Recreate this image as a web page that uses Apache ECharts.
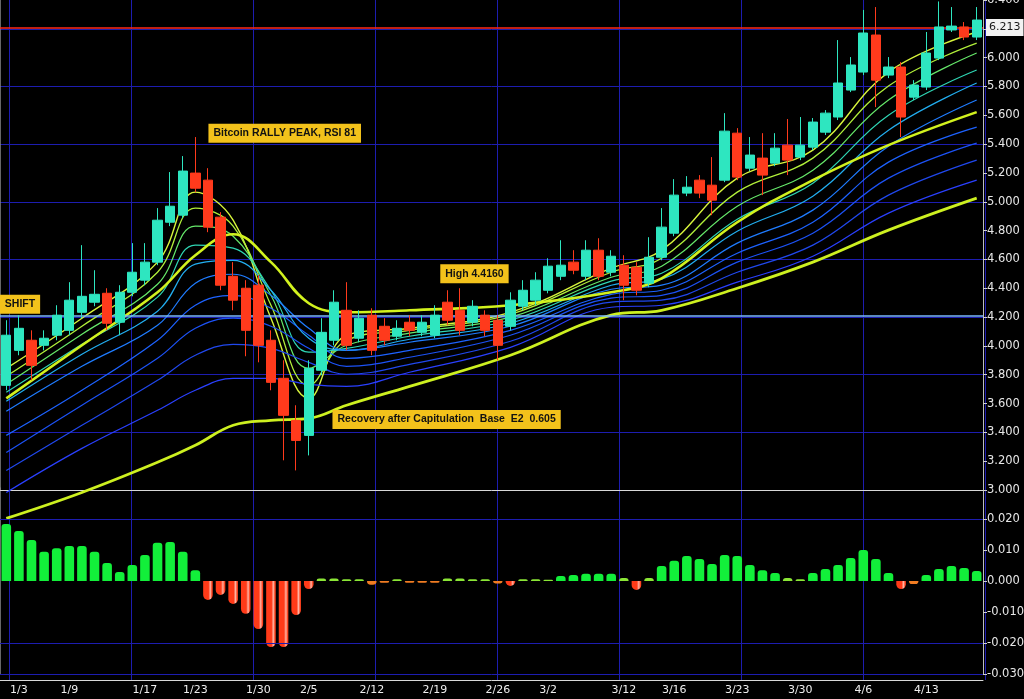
<!DOCTYPE html>
<html>
<head>
<meta charset="utf-8">
<script src="https://cdn.jsdelivr.net/npm/echarts@6/dist/echarts.min.js"></script>
<style>
  html, body { margin: 0; padding: 0; background: #000; }
  #chart { width: 1024px; height: 699px; }
</style>
</head>
<body>
<div id="chart"></div>
<script>
// Trading days shown on the category axis
const dates = ('1/2 1/3 1/4 1/5 1/8 1/9 1/10 1/11 1/12 1/15 1/16 1/17 1/18 1/19 1/22 1/23 1/24 1/25 1/26 1/29 1/30 1/31 ' +
  '2/1 2/2 2/5 2/6 2/7 2/8 2/9 2/12 2/13 2/14 2/15 2/16 2/19 2/20 2/21 2/22 2/23 2/26 2/27 2/28 ' +
  '3/1 3/2 3/5 3/6 3/7 3/8 3/9 3/12 3/13 3/14 3/15 3/16 3/19 3/20 3/21 3/22 3/23 3/26 3/27 3/28 3/29 3/30 ' +
  '4/2 4/3 4/4 4/5 4/6 4/9 4/10 4/11 4/12 4/13 4/16 4/17 4/18 4/19').split(' ');

// Daily OHLC
const open = [3.726,3.969,4.039,4.004,4.074,4.108,4.233,4.303,4.365,4.164,
  4.372,4.456,4.581,4.858,4.907,5.199,5.150,4.893,4.483,4.400,
  4.421,4.039,3.775,3.483,3.379,3.831,4.039,4.247,4.053,4.213,
  4.136,4.067,4.164,4.094,4.074,4.303,4.247,4.164,4.213,4.178,
  4.136,4.275,4.317,4.386,4.483,4.581,4.483,4.664,4.511,4.560,
  4.546,4.435,4.615,4.782,5.060,5.150,5.115,5.150,5.476,5.233,
  5.303,5.268,5.393,5.310,5.379,5.483,5.588,5.775,5.900,6.157,
  5.879,5.935,5.726,5.796,5.997,6.192,6.213,6.143];
const close = [4.074,4.122,3.865,4.053,4.213,4.317,4.344,4.358,4.157,4.372,
  4.511,4.581,4.872,4.969,5.213,5.094,4.824,4.421,4.317,4.108,
  4.004,3.747,3.518,3.344,3.844,4.094,4.303,4.004,4.192,3.969,
  4.039,4.122,4.108,4.164,4.213,4.178,4.108,4.275,4.108,4.004,
  4.317,4.386,4.456,4.553,4.560,4.525,4.664,4.483,4.622,4.421,
  4.386,4.615,4.824,5.046,5.101,5.060,5.011,5.490,5.171,5.324,
  5.185,5.372,5.289,5.393,5.553,5.615,5.824,5.949,6.171,5.844,
  5.935,5.588,5.810,6.032,6.213,6.219,6.143,6.261];
const low = [3.692,3.935,3.761,3.969,4.039,4.074,4.192,4.275,4.108,4.074,
  4.344,4.421,4.560,4.831,4.886,5.067,4.789,4.386,4.247,3.928,
  3.886,3.692,3.206,3.136,3.240,3.796,4.004,3.969,4.025,3.935,
  4.004,4.039,4.067,4.067,4.053,4.143,4.074,4.136,4.067,3.900,
  4.108,4.247,4.282,4.365,4.456,4.497,4.456,4.456,4.483,4.317,
  4.351,4.407,4.594,4.761,5.039,5.025,4.907,5.136,5.150,5.213,
  5.046,5.247,5.185,5.289,5.358,5.463,5.567,5.761,5.879,5.657,
  5.858,5.449,5.706,5.775,5.983,6.178,6.122,6.122];
const high = [4.178,4.213,4.108,4.108,4.282,4.442,4.699,4.525,4.400,4.421,
  4.713,4.713,4.956,5.206,5.317,5.449,5.233,4.928,4.581,4.456,
  4.490,4.108,3.900,3.588,3.900,4.192,4.386,4.442,4.247,4.261,
  4.192,4.178,4.213,4.213,4.282,4.386,4.400,4.317,4.247,4.213,
  4.372,4.456,4.511,4.608,4.733,4.664,4.733,4.747,4.664,4.629,
  4.581,4.754,4.956,5.157,5.178,5.185,5.310,5.615,5.511,5.449,
  5.476,5.476,5.574,5.588,5.581,5.636,6.122,6.004,6.331,6.351,
  6.004,5.969,5.844,6.178,6.390,6.351,6.247,6.351];

// Momentum histogram
const histogram = [0.0184,0.0161,0.0132,0.0094,0.0106,0.0113,0.0113,0.0094,0.0058,0.0029,
  0.0052,0.0084,0.0123,0.0126,0.0094,0.0035,-0.0061,-0.0045,-0.0074,-0.0106,
  -0.0155,-0.0213,-0.0213,-0.0110,-0.0026,0.0008,0.0008,0.0006,0.0006,-0.0012,
  -0.0006,0.0006,-0.0006,-0.0006,-0.0006,0.0008,0.0008,0.0006,0.0006,-0.0008,
  -0.0016,0.0006,0.0006,0.0004,0.0016,0.0019,0.0023,0.0023,0.0023,0.0010,
  -0.0029,0.0010,0.0048,0.0065,0.0081,0.0071,0.0055,0.0084,0.0081,0.0052,
  0.0035,0.0026,0.0010,0.0006,0.0026,0.0039,0.0052,0.0074,0.0100,0.0071,
  0.0026,-0.0026,-0.0010,0.0019,0.0039,0.0048,0.0042,0.0032];

// Moving-average ribbon, read at these day indices (fast -> slow)
const ribbonDays = [0, 6, 12, 15, 18, 21, 24, 27, 32, 40, 48, 52, 58, 64, 70, 77];
const ma1  = [3.844,4.192,4.581,5.067,4.872,4.192,3.636,4.074,4.122,4.233,4.539,4.664,5.164,5.358,5.900,6.178];
const ma2  = [3.789,4.136,4.511,4.956,4.831,4.282,3.726,4.039,4.108,4.219,4.511,4.608,5.067,5.303,5.803,6.101];
const ma3  = [3.733,4.081,4.428,4.831,4.761,4.351,3.844,4.004,4.088,4.199,4.476,4.553,4.969,5.219,5.706,6.032];
const ma4  = [3.678,4.011,4.338,4.699,4.678,4.386,3.956,3.983,4.067,4.178,4.449,4.504,4.879,5.129,5.601,5.914];
const ma5  = [3.615,3.942,4.240,4.567,4.594,4.386,4.053,3.969,4.046,4.157,4.421,4.463,4.796,5.039,5.497,5.824];
const ma6  = [3.546,3.858,4.143,4.435,4.497,4.351,4.122,3.969,4.025,4.136,4.393,4.421,4.713,4.942,5.386,5.706];
const ma7  = [3.636,4.004,4.372,4.629,4.775,4.581,4.296,4.233,4.247,4.282,4.372,4.469,4.858,5.150,5.393,5.622];
const ma8  = [3.379,3.692,4.039,4.282,4.351,4.261,4.074,3.914,3.969,4.108,4.358,4.386,4.643,4.858,5.275,5.518];
const ma9  = [3.261,3.588,3.914,4.122,4.192,4.136,3.983,3.858,3.921,4.074,4.331,4.351,4.581,4.782,5.164,5.407];
const ma10 = [3.136,3.449,3.761,3.935,4.011,3.983,3.886,3.803,3.872,4.032,4.303,4.317,4.511,4.699,5.046,5.289];
const ma11 = [2.983,3.289,3.553,3.692,3.775,3.775,3.733,3.719,3.817,3.990,4.268,4.282,4.442,4.622,4.921,5.150];
const ma12 = [2.803,2.983,3.192,3.310,3.449,3.483,3.497,3.588,3.719,3.935,4.213,4.247,4.400,4.581,4.803,5.025];

// Reference levels
const lastPrice = 6.213;
const supportLevel = 4.213;

// Date labels shown under the histogram
const dateTicks = [1, 5, 11, 15, 20, 24, 29, 34, 39, 43, 49, 53, 58, 63, 68, 73];

// Chart notes: text, day index, price
const noteText  = ['Bitcoin RALLY PEAK, RSI 81', 'High 4.4160', 'Recovery after Capitulation  Base  E2  0.605', 'SHIFT'];
const noteDay   = [16, 34, 26, 0];
const notePrice = [5.476, 4.501, 3.490, 4.289];

const GRID_BLUE = '#1d1db0';
const AXIS_FONT = 'DejaVu Sans';

const ribbon = [
  { d: ma1,  color: '#d8f53c', w: 1.4 },
  { d: ma2,  color: '#b2f03a', w: 1.3 },
  { d: ma3,  color: '#66e86a', w: 1.2 },
  { d: ma4,  color: '#2fd6b4', w: 1.2 },
  { d: ma5,  color: '#22aef0', w: 1.2 },
  { d: ma6,  color: '#1f7cff', w: 1.2 },
  { d: ma7,  color: '#d2f21e', w: 2.6 },
  { d: ma8,  color: '#1d62ff', w: 1.2 },
  { d: ma9,  color: '#1c52f6', w: 1.2 },
  { d: ma10, color: '#2048ee', w: 1.2 },
  { d: ma11, color: '#2a40ff', w: 1.2 },
  { d: ma12, color: '#cdf020', w: 2.8 }
];

const redBar = new echarts.graphic.LinearGradient(0, 0, 1, 0, [
  { offset: 0, color: '#ff3a18' },
  { offset: 0.55, color: '#ff3a18' },
  { offset: 0.75, color: '#ffb4a4' },
  { offset: 0.9, color: '#ff4a26' },
  { offset: 1, color: '#ff3a18' }
]);

function barColor(v) {
  if (v >= 0.0015) return '#12ef3a';
  if (v >= 0) return '#8be636';
  if (v > -0.0015) return '#f07c22';
  return redBar;
}

const chart = echarts.init(document.getElementById('chart'), null, { renderer: 'canvas' });

const series = ribbon.map(r => ({
  type: 'line',
  xAxisIndex: 0,
  yAxisIndex: 0,
  data: ribbonDays.map((day, j) => [day, r.d[j]]),
  smooth: 0.4,
  showSymbol: false,
  clip: false,
  silent: true,
  z: 3,
  lineStyle: { color: r.color, width: r.w }
}));

series.push({
  type: 'candlestick',
  xAxisIndex: 0,
  yAxisIndex: 0,
  z: 6,
  barWidth: '78%',
  data: dates.map((d, i) => [open[i], close[i], low[i], high[i]]),
  itemStyle: {
    color: '#2ee6c0', color0: '#ff3a1c',
    borderColor: '#2ee6c0', borderColor0: '#ff3a1c', borderWidth: 1
  },
  markLine: {
    silent: true,
    symbol: ['none', 'none'],
    lineStyle: { type: 'solid' },
    data: [
      { yAxis: lastPrice, lineStyle: { color: '#ff2a1a', width: 1.6, type: 'solid' },
        label: { show: true, position: 'end', distance: 3, formatter: lastPrice.toFixed(3),
          backgroundColor: '#f2f2f2', color: '#1a1a1a', padding: [3, 3], fontSize: 11, fontFamily: AXIS_FONT } },
      { yAxis: supportLevel, lineStyle: { color: '#7ab8ff', width: 1.5, type: 'solid' }, label: { show: false } }
    ]
  },
  markPoint: {
    symbol: 'rect',
    symbolSize: 1,
    silent: true,
    itemStyle: { color: 'rgba(0,0,0,0)' },
    label: {
      show: true, position: 'right', distance: 0,
      backgroundColor: '#f3c21b', color: '#121212', fontWeight: 'bold',
      fontSize: 10.5, fontFamily: 'Liberation Sans', padding: [4, 5]
    },
    data: noteText.map((t, i) => ({
      coord: [noteDay[i], notePrice[i]],
      label: { formatter: t, offset: [[0, 5, -2, -7][i], 0] }
    }))
  }
});

series.push({
  type: 'bar',
  xAxisIndex: 1,
  yAxisIndex: 2,
  barWidth: '76%',
  z: 4,
  data: histogram.map(v => ({
    value: v,
    itemStyle: { color: barColor(v), borderRadius: v >= 0 ? [3, 3, 0, 0] : [0, 0, 6, 6] }
  })),
  markLine: {
    silent: true,
    symbol: ['none', 'none'],
    label: { show: false },
    lineStyle: { color: GRID_BLUE, width: 1, type: 'solid' },
    data: [{ yAxis: 0.02 }, { yAxis: -0.018 }, { yAxis: -0.0295 }]
  }
});

chart.setOption({
  backgroundColor: '#000000',
  animation: false,
  grid: [
    { left: 0, right: 41, top: 0, height: 490, outerBoundsMode: 'none', containLabel: false },
    { left: 0, right: 41, top: 488, height: 186, outerBoundsMode: 'none', containLabel: false },
    { left: 9, top: 0, width: 976, height: 680, outerBoundsMode: 'none', containLabel: false }
  ],
  xAxis: [
    { type: 'category', gridIndex: 0, data: dates,
      axisLine: { onZero: false, lineStyle: { color: '#d8d8d8', width: 1 } },
      axisTick: { show: false }, axisLabel: { show: false }, splitLine: { show: false } },
    { type: 'category', gridIndex: 1, data: dates, offset: 6,
      axisLine: { onZero: false, lineStyle: { color: '#d8d8d8', width: 1 } },
      axisTick: { show: false }, splitLine: { show: false },
      axisLabel: { color: '#eeeeee', fontSize: 11, fontFamily: AXIS_FONT, margin: 5,
        interval: (i) => dateTicks.includes(i) } },
    { type: 'value', gridIndex: 2, min: 0, max: 8, interval: 1,
      axisLine: { show: false }, axisTick: { show: false }, axisLabel: { show: false },
      splitLine: { show: true, lineStyle: { color: GRID_BLUE, width: 1 } } }
  ],
  yAxis: [
    { type: 'value', gridIndex: 0, position: 'right', min: 3.0, max: 6.4, interval: 0.2,
      axisLine: { show: true, lineStyle: { color: '#bdbdbd' } },
      axisTick: { show: true, length: 4, lineStyle: { color: '#d0d0d0' } },
      splitLine: { show: false },
      axisLabel: { color: '#e6e6e6', fontSize: 11.5, fontFamily: AXIS_FONT, margin: 4,
        formatter: v => v.toFixed(3) } },
    { type: 'value', gridIndex: 0, position: 'left', min: 0, max: 17, interval: 2,
      axisLine: { show: true, lineStyle: { color: '#8a8a8a', width: 1.5 } },
      axisTick: { show: false }, axisLabel: { show: false },
      splitLine: { show: true, showMaxLine: false, lineStyle: { color: GRID_BLUE, width: 1 } } },
    { type: 'value', gridIndex: 1, position: 'right', min: -0.03, max: 0.03, interval: 0.01,
      axisLine: { show: true, lineStyle: { color: '#bdbdbd' } },
      axisTick: { show: true, length: 4, lineStyle: { color: '#d0d0d0' } },
      splitLine: { show: false },
      axisLabel: { color: '#e6e6e6', fontSize: 11.5, fontFamily: AXIS_FONT, margin: 4,
        showMaxLabel: false, formatter: v => v.toFixed(3) } },
    { type: 'value', gridIndex: 1, position: 'left', min: -0.03, max: 0.03,
      axisLine: { show: true, lineStyle: { color: '#8a8a8a', width: 1.5 } },
      axisTick: { show: false }, axisLabel: { show: false }, splitLine: { show: false } },
    { type: 'value', gridIndex: 2, show: false, min: 0, max: 1 }
  ],
  series: series
});
</script>
</body>
</html>
